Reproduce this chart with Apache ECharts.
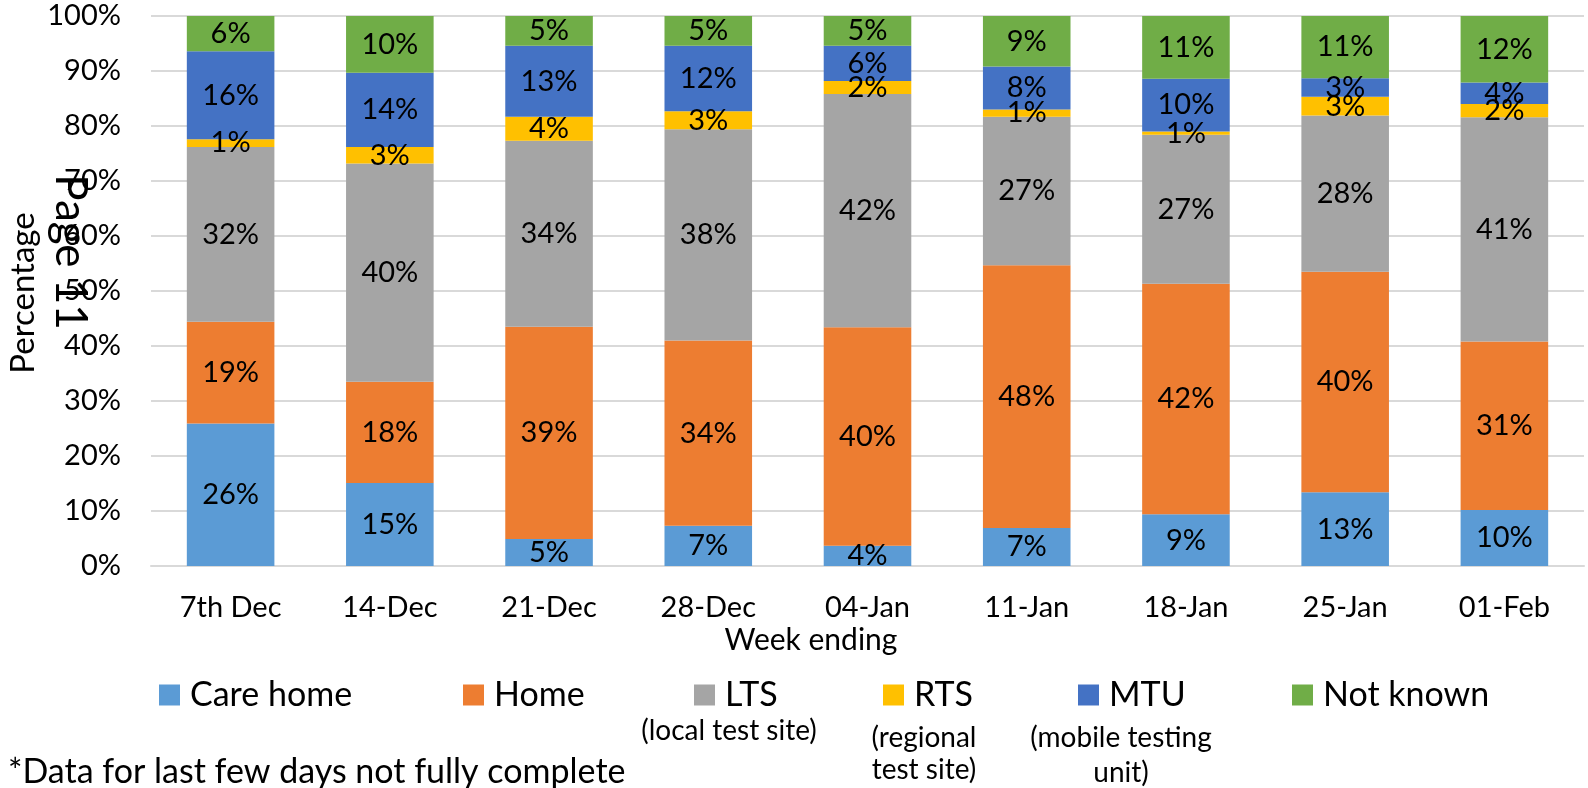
<!DOCTYPE html>
<html>
<head>
<meta charset="utf-8">
<title>Test location by week</title>
<script src="https://cdn.jsdelivr.net/npm/echarts@6.0.0/dist/echarts.min.js"></script>
<style>
  html, body { margin: 0; padding: 0; background: #fff; }
  #chart { width: 1588px; height: 788px; }
</style>
</head>
<body>
<div id="chart"></div>
<script>
// week ending labels
const weeks = ['7th Dec', '14-Dec', '21-Dec', '28-Dec', '04-Jan', '11-Jan', '18-Jan', '25-Jan', '01-Feb'];

// share of tests per location, in percent
const careHome = [25.9, 15.1, 4.9, 7.3, 3.7, 6.9, 9.4, 13.4, 10.2];
const home     = [18.5, 18.4, 38.6, 33.7, 39.7, 47.8, 41.9, 40.1, 30.6];
const lts      = [31.8, 39.7, 33.8, 38.4, 42.4, 27.0, 27.1, 28.4, 40.8];
const rts      = [1.4, 3.0, 4.4, 3.3, 2.4, 1.3, 0.6, 3.4, 2.4];
const mtu      = [16.0, 13.5, 12.9, 11.9, 6.4, 7.8, 9.6, 3.4, 3.9];
const notKnown = [6.4, 10.3, 5.4, 5.4, 5.4, 9.2, 11.4, 11.3, 12.1];

const seriesNames = ['Care home', 'Home', 'LTS', 'RTS', 'MTU', 'Not known'];
const colors = ['#5B9BD5', '#ED7D31', '#A5A5A5', '#FFC000', '#4472C4', '#70AD47'];
const values = [careHome, home, lts, rts, mtu, notKnown];

const FONT = 'Lato, "Open Sans", sans-serif';

// legend swatch x positions (one legend per entry so they line up like the original)
const legendLeft = [154, 458, 689, 878, 1073, 1287];

const chart = echarts.init(document.getElementById('chart'));

const series = seriesNames.map((name, i) => ({
  name: name,
  type: 'bar',
  stack: 'total',
  barWidth: '55%',
  data: values[i],
  itemStyle: { color: colors[i] },
  label: {
    show: true,
    position: 'inside',
    color: '#000',
    fontFamily: FONT,
    fontSize: 29,
    formatter: p => Math.round(p.value) + '%'
  },
  emphasis: { disabled: true }
}));

const legends = seriesNames.map((name, i) => ({
  data: [name],
  left: legendLeft[i],
  top: 673,
  orient: 'horizontal',
  itemWidth: 21,
  itemHeight: 21,
  icon: 'rect',
  selectedMode: false,
  textStyle: {
    color: '#000',
    fontFamily: FONT,
    fontSize: 34,
    lineHeight: 34,
    padding: [0, 0, 0, 5]
  }
}));

const plainText = (x, y, text, size, align, rotation) => ({
  type: 'text',
  x: x,
  y: y,
  rotation: rotation || 0,
  style: {
    text: text,
    fill: '#000',
    font: size + 'px ' + FONT,
    align: align || 'center',
    verticalAlign: 'middle'
  }
});

const option = {
  animation: false,
  backgroundColor: '#fff',
  grid: {
    left: 151,
    right: 4,
    top: 16,
    bottom: 222
  },
  legend: legends,
  xAxis: {
    type: 'category',
    data: weeks,
    axisLine: { lineStyle: { color: '#D9D9D9', width: 2 } },
    axisTick: { show: false },
    axisLabel: { color: '#000', fontFamily: FONT, fontSize: 29, margin: 27, interval: 0 }
  },
  yAxis: {
    type: 'value',
    min: 0,
    max: 100,
    interval: 10,
    axisLine: { show: false },
    axisTick: { show: false },
    axisLabel: { color: '#000', fontFamily: FONT, fontSize: 29, margin: 30, formatter: '{value}%' },
    splitLine: { lineStyle: { color: '#D9D9D9', width: 2 } }
  },
  series: series,
  graphic: [
    // axis titles placed by hand, the original has them off the plot centre
    plainText(811, 640, 'Week ending', 30),
    plainText(23, 293, 'Percentage', 33, 'center', Math.PI / 2),
    plainText(729, 731, '(local test site)', 28),
    plainText(924, 738, '(regional', 28),
    plainText(924, 770, 'test site)', 28),
    plainText(1121, 738, '(mobile testing', 28),
    plainText(1121, 773, 'unit)', 28),
    plainText(8, 772, '*Data for last few days not fully complete', 34, 'left'),
    // stray page number stamped over the axis in the source
    plainText(70, 252, 'Page 11', 44, 'center', -Math.PI / 2)
  ]
};

chart.setOption(option);

window.addEventListener('resize', () => {
  chart.resize();
});
</script>
</body>
</html>
